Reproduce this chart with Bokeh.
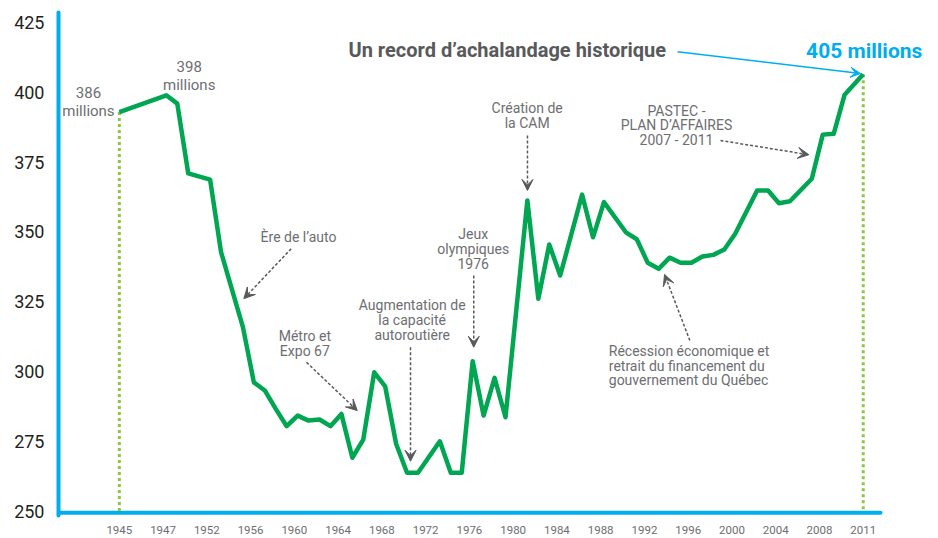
import numpy as np
from bokeh.plotting import figure
from bokeh.models import Range1d, FixedTicker, Label, Arrow, VeeHead
from bokeh.embed import file_html
from bokeh.resources import INLINE

# ---------------- data ----------------
years = [1945, 1947, 1948, 1949, 1952, 1953, 1955, 1956, 1957, 1958, 1959,
         1960, 1961, 1962, 1963, 1964, 1965, 1966, 1967, 1968, 1969, 1970,
         1971, 1973, 1974, 1975, 1976, 1977, 1978, 1979, 1981, 1982, 1983,
         1984, 1986, 1987, 1988, 1990, 1991, 1992, 1993, 1994, 1995, 1996,
         1997, 1998, 1999, 2000, 2002, 2003, 2004, 2005, 2007, 2008, 2009,
         2010, 2011]
ridership = [393.0, 399.0, 396.0, 371.0, 368.8, 342.8, 315.9, 296.1, 293.2,
             286.6, 280.4, 284.2, 282.4, 282.8, 280.4, 284.8, 269.1, 275.6,
             299.7, 294.7, 274.1, 263.7, 263.7, 275.0, 263.7, 263.7, 303.7,
             284.2, 297.7, 283.6, 361.3, 326.1, 345.5, 334.4, 363.4, 348.1,
             360.7, 349.9, 347.4, 339.0, 336.8, 340.8, 339.0, 339.0, 341.2,
             341.8, 343.7, 349.4, 364.9, 364.9, 360.3, 361.0, 369.1, 384.9,
             385.2, 399.2, 406.5]
tick_years = [1945, 1947, 1952, 1956, 1960, 1964, 1968, 1972, 1976, 1980,
              1984, 1988, 1992, 1996, 2000, 2004, 2008, 2011]
y_ticks = [250, 275, 300, 325, 350, 375, 400, 425]

# ---------------- axis layout (slot scale of the original chart) ----------------
knot_years = [1945, 1947, 1949, 1952, 2010, 2011]
knot_pos = [0, 4, 6, 8, 66, 68]
yrs = np.array(years, dtype=float)
xpos = np.interp(yrs, knot_years, knot_pos)
xpos = xpos + np.where((yrs > yrs[0]) & (yrs < yrs[-1]), 0.3, 0.0)
tick_pos = [float(v) for v in np.interp(tick_years, knot_years, knot_pos)]

CYAN = "#00AEEF"
GREEN = "#00A651"
LIGHTGREEN = "#8DC63F"
GREY = "#6D6E71"
DARK = "#58595B"
FONT = "Roboto"

X0, X1 = -5.558, 74.88
Y0, Y1 = 248.39, 428.67
FRAME_H = 503
PX = FRAME_H / (Y1 - Y0)  # pixels per unit
AXIS_Y = 249.35           # where the drawn x-axis line sits
AXIS_X_END = 69.58

p = figure(width=938, height=538, output_backend="svg", toolbar_location=None,
           x_range=Range1d(X0, X1), y_range=Range1d(Y0, Y1),
           min_border_left=58, min_border_right=0, min_border_top=12,
           min_border_bottom=23, title_location=None)
p.outline_line_color = None
p.xgrid.visible = False
p.ygrid.visible = False
p.background_fill_color = "white"
p.border_fill_color = "white"

for ax in (p.xaxis[0], p.yaxis[0]):
    ax.major_tick_out = 0
    ax.major_tick_in = 0
    ax.minor_tick_out = 0
    ax.minor_tick_in = 0
    ax.major_label_text_font = FONT

p.yaxis.axis_line_color = CYAN
p.yaxis.axis_line_width = 4
p.yaxis.axis_line_cap = "round"
p.xaxis.axis_line_color = None

p.xaxis.ticker = FixedTicker(ticks=tick_pos)
p.xaxis.major_label_overrides = {tp: str(ty) for tp, ty in zip(tick_pos, tick_years)}
p.xaxis.major_label_text_font_size = "11.5px"
p.xaxis.major_label_text_color = GREY
p.xaxis.major_label_standoff = 10

p.yaxis.ticker = FixedTicker(ticks=y_ticks)
p.yaxis.major_label_text_font_size = "18px"
p.yaxis.major_label_text_color = "#231F20"
p.yaxis.major_label_standoff = 14

# x-axis baseline (drawn so that the frame can extend to the right for the headline)
p.segment(x0=[X0], y0=[AXIS_Y], x1=[AXIS_X_END], y1=[AXIS_Y],
          line_color=CYAN, line_width=4, line_cap="round")

# dotted markers at start and end
p.segment(x0=[xpos[0], xpos[-1]], y0=[ridership[0], ridership[-1]],
          x1=[xpos[0], xpos[-1]], y1=[y_ticks[0], y_ticks[0]],
          line_color=LIGHTGREEN, line_width=3, line_dash="3 3")

# main line
p.line(xpos, ridership, line_color=GREEN, line_width=4.5, line_join="round")


def add_text(lines, x, y_first, align="center", size="14px", color=GREY,
             spacing_px=15.0, style="normal"):
    for i, t in enumerate(lines):
        p.add_layout(Label(x=x, y=y_first - i * spacing_px / PX, text=t,
                           text_align=align, text_baseline="middle",
                           text_font=FONT, text_font_size=size,
                           text_color=color, text_font_style=style))


def add_arrow(xs, ys, xe, ye, color=DARK, dash="3 2", width=1.5, size=11):
    p.add_layout(Arrow(end=VeeHead(size=size, fill_color=color, line_color=color),
                       x_start=xs, y_start=ys, x_end=xe, y_end=ye,
                       line_color=color, line_width=width, line_dash=dash))


# value labels
add_text(["386", "millions"], -2.82, 399.9, size="15px", spacing_px=18.5)
add_text(["398", "millions"], 6.39, 409.3, size="15px", spacing_px=18.5)

# annotations
add_text(["Ère de l’auto"], 16.38, 348.1)
add_arrow(15.71, 344.0, 11.38, 326.1)

add_text(["Métro et", "Expo 67"], 16.96, 312.65)
add_arrow(17.11, 303.3, 21.75, 286.0)

add_text(["Augmentation de", "la capacité", "autoroutière"], 26.77, 323.66)
add_arrow(26.62, 308.7, 26.62, 267.85)

add_text(["Jeux", "olympiques", "1976"], 32.35, 349.35)
add_arrow(32.40, 334.4, 32.40, 308.7)

add_text(["Création de", "la CAM"], 37.28, 394.4)
add_arrow(37.31, 384.6, 37.31, 364.9)

add_text(["PASTEC -", "PLAN D’AFFAIRES", "2007 - 2011"], 50.93, 393.5, spacing_px=14.6)
add_arrow(54.95, 382.8, 63.03, 377.7)

add_text(["Récession économique et", "retrait du financement du",
          "gouvernement du Québec"], 44.74, 307.3, align="left", spacing_px=14.4)
add_arrow(52.15, 311.1, 49.84, 334.8)

# headline
add_text(["Un record d’achalandage historique"], 20.95, 415.4, align="left",
         size="20px", color=DARK, style="bold")
add_text(["405 millions"], 73.4, 415.05, align="right", size="21px",
         color=CYAN, style="bold")
add_arrow(51.03, 414.6, 67.75, 406.8, color=CYAN, dash="solid", width=1.5, size=10)

open("out.html", "w").write(file_html(p, INLINE))
